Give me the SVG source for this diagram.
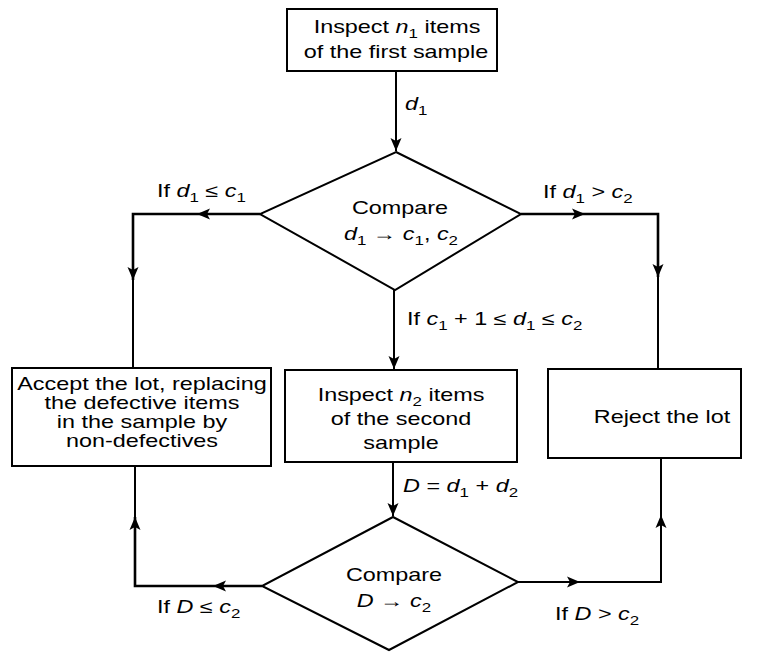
<svg xmlns="http://www.w3.org/2000/svg" width="764" height="652" viewBox="0 0 764 652">
<style>
.t{font-family:"Liberation Sans",Arial,Helvetica,sans-serif;font-size:18px;fill:#000}
.m{text-anchor:middle}
.i{font-style:italic}
.s{font-size:13px}
.box{fill:#fff;stroke:#000;stroke-width:2}
.con{fill:none;stroke:#000;stroke-width:2}
.thick{stroke-width:2.6}
</style>
<defs>
<marker id="ah" viewBox="-14 -7 15 14" markerWidth="15" markerHeight="14" refX="0" refY="0" orient="auto" markerUnits="userSpaceOnUse">
<path d="M0,0 L-13,-5.5 L-10,0 L-13,5.5 Z" fill="#000"/>
</marker>
</defs>
<rect width="764" height="652" fill="#fff"/>

<g id="connectors">
<path class="con" d="M396,71 V151" marker-end="url(#ah)"/>
<path class="con thick" d="M260,214 H197" marker-end="url(#ah)"/>
<path class="con thick" d="M197,214 H133 V280" marker-end="url(#ah)"/>
<path class="con" d="M133,280 V368"/>
<path class="con thick" d="M521,214 H585" marker-end="url(#ah)"/>
<path class="con thick" d="M585,214 H658 V277" marker-end="url(#ah)"/>
<path class="con" d="M658,277 V369"/>
<path class="con" d="M394,290 V369" marker-end="url(#ah)"/>
<path class="con" d="M393,462 V516" marker-end="url(#ah)"/>
<path class="con thick" d="M262,586 H213" marker-end="url(#ah)"/>
<path class="con thick" d="M213,586 H135 V517" marker-end="url(#ah)"/>
<path class="con" d="M135,517 V466"/>
<path class="con" d="M518,582 H580" marker-end="url(#ah)"/>
<path class="con" d="M580,582 H661 V515" marker-end="url(#ah)"/>
<path class="con" d="M661,515 V458"/>
<text class="t" transform="translate(405,110) scale(1.3,1)"><tspan class="i">d</tspan><tspan class="s" dy="5">1</tspan></text>
<text class="t" transform="translate(157,197) scale(1.3,1)">If <tspan class="i">d</tspan><tspan class="s" dy="5">1</tspan><tspan dy="-5"> ≤ </tspan><tspan class="i">c</tspan><tspan class="s" dy="5">1</tspan></text>
<text class="t" transform="translate(543,198) scale(1.3,1)">If <tspan class="i">d</tspan><tspan class="s" dy="5">1</tspan><tspan dy="-5"> &gt; </tspan><tspan class="i">c</tspan><tspan class="s" dy="5">2</tspan></text>
<text class="t" transform="translate(407,325) scale(1.3,1)">If <tspan class="i">c</tspan><tspan class="s" dy="5">1</tspan><tspan dy="-5"> + 1 ≤ </tspan><tspan class="i">d</tspan><tspan class="s" dy="5">1</tspan><tspan dy="-5"> ≤ </tspan><tspan class="i">c</tspan><tspan class="s" dy="5">2</tspan></text>
<text class="t" transform="translate(403,492) scale(1.3,1)"><tspan class="i">D</tspan> =  <tspan class="i">d</tspan><tspan class="s" dy="5">1</tspan><tspan dy="-5"> + </tspan><tspan class="i">d</tspan><tspan class="s" dy="5">2</tspan></text>
<text class="t" transform="translate(157,613) scale(1.3,1)">If <tspan class="i">D</tspan> ≤ <tspan class="i">c</tspan><tspan class="s" dy="5">2</tspan></text>
<text class="t" transform="translate(555,620) scale(1.3,1)">If <tspan class="i">D</tspan> &gt; <tspan class="i">c</tspan><tspan class="s" dy="5">2</tspan></text>
</g>

<g id="inspect1">
<rect class="box" x="287" y="9" width="210" height="62"/>
<text class="t m" transform="translate(397,33) scale(1.3,1)">Inspect <tspan class="i">n</tspan><tspan class="s" dy="5">1</tspan><tspan dy="-5"> items</tspan></text>
<text class="t m" transform="translate(396,58) scale(1.3,1)">of the first sample</text>
</g>

<g id="compare1">
<polygon class="box" points="396,152 521,214 395,290 260,214"/>
<text class="t m" transform="translate(400,214) scale(1.3,1)">Compare</text>
<text class="t m" transform="translate(401,240) scale(1.3,1)"><tspan class="i">d</tspan><tspan class="s" dy="5">1</tspan><tspan dy="-5"> → </tspan><tspan class="i">c</tspan><tspan class="s" dy="5">1</tspan><tspan dy="-5">, </tspan><tspan class="i">c</tspan><tspan class="s" dy="5">2</tspan></text>
</g>

<g id="accept">
<rect class="box" x="12" y="368" width="259" height="98"/>
<text class="t m" transform="translate(142,390) scale(1.3,1)">Accept the lot, replacing</text>
<text class="t m" transform="translate(142,409) scale(1.3,1)">the defective items</text>
<text class="t m" transform="translate(142,428) scale(1.3,1)">in the sample by</text>
<text class="t m" transform="translate(142,447) scale(1.3,1)">non-defectives</text>
</g>

<g id="inspect2">
<rect class="box" x="285" y="370" width="232" height="92"/>
<text class="t m" transform="translate(401,401) scale(1.3,1)">Inspect <tspan class="i">n</tspan><tspan class="s" dy="5">2</tspan><tspan dy="-5"> items</tspan></text>
<text class="t m" transform="translate(401,425) scale(1.3,1)">of the second</text>
<text class="t m" transform="translate(401,449) scale(1.3,1)">sample</text>
</g>

<g id="reject">
<rect class="box" x="548" y="369" width="193" height="89"/>
<text class="t m" transform="translate(662,423) scale(1.3,1)">Reject the lot</text>
</g>

<g id="compare2">
<polygon class="box" points="393,517 518,582 389,650 262,586"/>
<text class="t m" transform="translate(394,581) scale(1.3,1)">Compare</text>
<text class="t m" transform="translate(394,607) scale(1.3,1)"><tspan class="i">D</tspan> → <tspan class="i">c</tspan><tspan class="s" dy="5">2</tspan></text>
</g>
</svg>
